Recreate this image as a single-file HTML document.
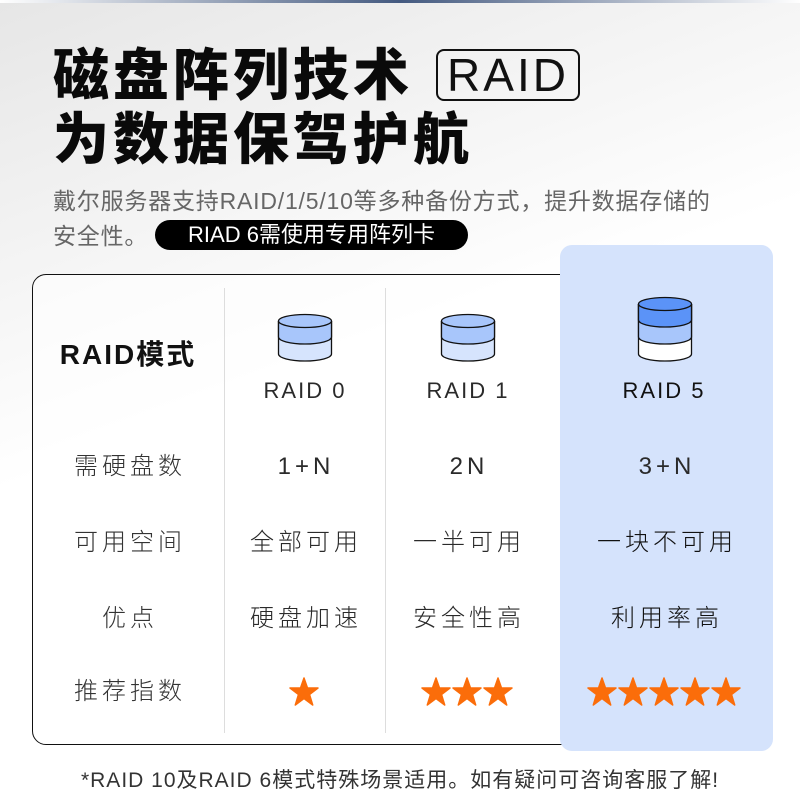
<!DOCTYPE html>
<html><head><meta charset="utf-8"><style>
*{margin:0;padding:0;box-sizing:border-box}
body{width:800px;height:800px;overflow:hidden;position:relative;font-family:"Liberation Sans","Noto Sans CJK SC",sans-serif;
background:linear-gradient(160deg,#e6e6e6 0%,#f4f4f4 25%,#ffffff 45%,#ffffff 100%);color:#222}
.a{position:absolute;white-space:nowrap}
.t{font-weight:900;font-size:56px;letter-spacing:4px;color:#0a0a0a;line-height:1}
.c{position:absolute;white-space:nowrap;text-align:center;font-size:24px;letter-spacing:4px;color:#2a2a2a;font-weight:300;line-height:1;transform:translateX(-50%)}
.l{color:#333}
</style></head><body>
<div class="a" style="left:0;top:0;width:800px;height:3px;background:linear-gradient(90deg,#fff,#445a80,#fff)"></div>
<div class="a t" style="left:53px;top:48px">磁盘阵列技术</div>
<div class="a" style="left:436px;top:49px;width:144px;height:52px;border:2px solid #111;border-radius:8px;font-size:46px;line-height:48px;text-align:center;letter-spacing:3px;color:#111">RAID</div>
<div class="a t" style="left:53px;top:112px">为数据保驾护航</div>
<div class="a" style="left:53px;top:182px;font-size:23px;color:#666;letter-spacing:0.8px">戴尔服务器支持RAID/1/5/10等多种备份方式，提升数据存储的</div>
<div class="a" style="left:53px;top:217px;font-size:23px;color:#666;letter-spacing:0.8px">安全性。</div>
<div class="a" style="left:155px;top:220px;width:313px;height:30px;background:#000;border-radius:15px;color:#fff;font-size:22px;line-height:30px;text-align:center">RIAD 6需使用专用阵列卡</div>

<div class="a" style="left:32px;top:274px;width:740px;height:471px;border:1.5px solid #111;border-radius:14px;background:rgba(255,255,255,0.6)"></div>
<div class="a" style="left:560px;top:245px;width:213px;height:506px;background:#d5e3fc;border-radius:12px"></div>
<div class="a" style="left:224px;top:288px;width:1px;height:445px;background:#ddd"></div>
<div class="a" style="left:385px;top:288px;width:1px;height:445px;background:#ddd"></div>

<div class="c" style="left:128px;top:341px;font-size:28px;font-weight:700;letter-spacing:2px;color:#111">RAID模式</div>

<svg class="a" style="left:277px;top:312px" width="56" height="52" viewBox="0 0 56 52">
<path d="M1.5 9 V42 A26.5 7 0 0 0 54.5 42 V9" fill="#d6e4fd" stroke="#111" stroke-width="1.3"/>
<path d="M1.5 9 V25 A26.5 7 0 0 0 54.5 25 V9" fill="#a8c6fb" stroke="#111" stroke-width="1.3"/>
<ellipse cx="28" cy="9" rx="26.5" ry="6.5" fill="#a8c6fb" stroke="#111" stroke-width="1.3"/></svg>
<svg class="a" style="left:440px;top:312px" width="56" height="52" viewBox="0 0 56 52">
<path d="M1.5 9 V42 A26.5 7 0 0 0 54.5 42 V9" fill="#d6e4fd" stroke="#111" stroke-width="1.3"/>
<path d="M1.5 9 V25 A26.5 7 0 0 0 54.5 25 V9" fill="#a8c6fb" stroke="#111" stroke-width="1.3"/>
<ellipse cx="28" cy="9" rx="26.5" ry="6.5" fill="#a8c6fb" stroke="#111" stroke-width="1.3"/></svg>
<svg class="a" style="left:637px;top:295px" width="56" height="70" viewBox="0 0 56 70">
<path d="M1.5 9 V59 A26.5 7 0 0 0 54.5 59 V9" fill="#ffffff" stroke="#111" stroke-width="1.3"/>
<path d="M1.5 9 V42 A26.5 7 0 0 0 54.5 42 V9" fill="#a8c6fb" stroke="#111" stroke-width="1.3"/>
<path d="M1.5 9 V25 A26.5 7 0 0 0 54.5 25 V9" fill="#5b93f7" stroke="#111" stroke-width="1.3"/>
<ellipse cx="28" cy="9" rx="26.5" ry="6.5" fill="#5b93f7" stroke="#111" stroke-width="1.3"/></svg>

<div class="c" style="left:305px;top:380px;font-size:22px;letter-spacing:2px">RAID 0</div>
<div class="c" style="left:468px;top:380px;font-size:22px;letter-spacing:2px">RAID 1</div>
<div class="c" style="left:664px;top:380px;font-size:22px;letter-spacing:2px;font-weight:400;color:#111">RAID 5</div>

<div class="c l" style="left:130px;top:455px">需硬盘数</div>
<div class="c" style="left:306px;top:455px">1+N</div>
<div class="c" style="left:469px;top:455px">2N</div>
<div class="c" style="left:667px;top:455px">3+N</div>

<div class="c l" style="left:130px;top:531px">可用空间</div>
<div class="c" style="left:306px;top:531px">全部可用</div>
<div class="c" style="left:469px;top:531px">一半可用</div>
<div class="c" style="left:667px;top:531px;color:#111">一块不可用</div>

<div class="c l" style="left:130px;top:607px">优点</div>
<div class="c" style="left:306px;top:607px">硬盘加速</div>
<div class="c" style="left:469px;top:607px">安全性高</div>
<div class="c" style="left:667px;top:607px;color:#111">利用率高</div>

<div class="c l" style="left:130px;top:680px">推荐指数</div>
<svg width="0" height="0" style="position:absolute"><defs><polygon id="s" points="15,1 18.5,11 29,11 20.5,17.5 23.7,28 15,21.5 6.3,28 9.5,17.5 1,11 11.5,11" fill="#fb6d0a" stroke="#fb6d0a" stroke-width="1.5" stroke-linejoin="round"/></defs></svg>
<svg class="a" style="left:289px;top:677px" width="31" height="30"><use href="#s"/></svg>
<svg class="a" style="left:421px;top:677px" width="93" height="30"><use href="#s"/><use href="#s" x="31"/><use href="#s" x="62"/></svg>
<svg class="a" style="left:587px;top:677px" width="155" height="30"><use href="#s"/><use href="#s" x="31"/><use href="#s" x="62"/><use href="#s" x="93"/><use href="#s" x="124"/></svg>

<div class="a" style="left:0;width:800px;top:764px;text-align:center;font-size:21px;letter-spacing:1px;color:#333">*RAID 10及RAID 6模式特殊场景适用。如有疑问可咨询客服了解!</div>
</body></html>
